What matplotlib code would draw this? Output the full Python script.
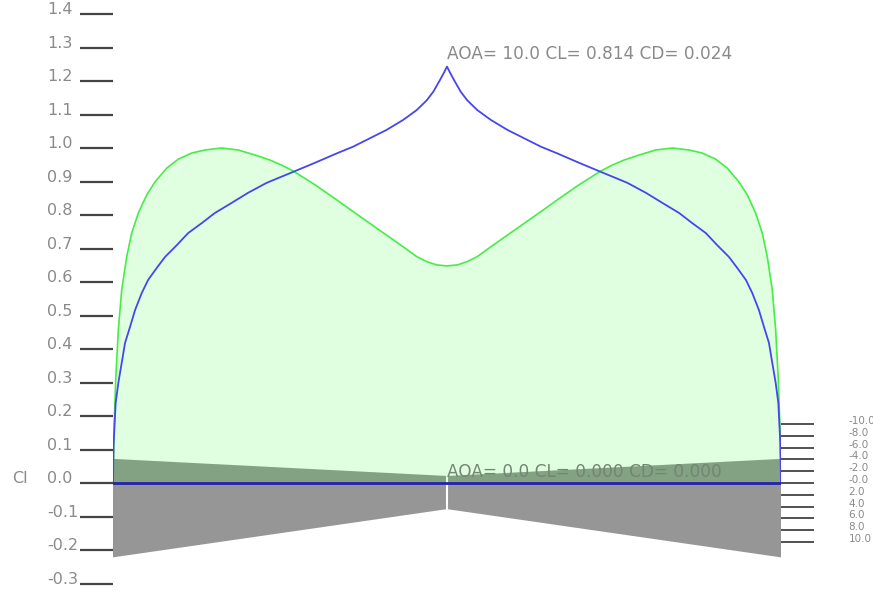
import numpy as np
import matplotlib
matplotlib.use('Agg')
import matplotlib.pyplot as plt
from matplotlib.transforms import blended_transform_factory

# spanwise stations (left half: tip at -1, root at 0), mirrored for the right wing
eta_blue = [-1.0, -0.998, -0.992, -0.984, -0.974, -0.964, -0.949, -0.934, -0.914,
            -0.895, -0.869, -0.844, -0.809, -0.775, -0.734, -0.695, -0.645, -0.596,
            -0.540, -0.460, -0.395, -0.330, -0.281, -0.231, -0.181, -0.131, -0.091,
            -0.061, -0.041, -0.021, -0.009, 0.0]
cl_blue = [0.0, 0.119, 0.239, 0.299, 0.358, 0.418, 0.466, 0.516, 0.567,
           0.606, 0.642, 0.675, 0.710, 0.746, 0.776, 0.806, 0.836, 0.866,
           0.896, 0.929, 0.956, 0.984, 1.004, 1.029, 1.054, 1.084, 1.113,
           1.142, 1.168, 1.203, 1.225, 1.243]

eta_green = [-1.0, -0.997, -0.992, -0.984, -0.974, -0.959, -0.944, -0.924, -0.899,
             -0.874, -0.839, -0.804, -0.764, -0.725, -0.675, -0.625, -0.575, -0.530,
             -0.495, -0.460, -0.395, -0.330, -0.281, -0.231, -0.181, -0.131, -0.091,
             -0.061, -0.031, 0.0]
cl_green = [0.0, 0.158, 0.307, 0.457, 0.576, 0.675, 0.746, 0.806, 0.860,
            0.899, 0.940, 0.967, 0.985, 0.994, 1.000, 0.994, 0.979, 0.964,
            0.949, 0.931, 0.890, 0.845, 0.810, 0.775, 0.740, 0.705, 0.676,
            0.661, 0.651, 0.648]

# wing planform (left half: tip -> root)
plan_eta = [-1.0, 0.0]
plan_top = [0.072, 0.021]
plan_bot = [-0.222, -0.078]

cl_ticks = np.round(np.arange(-0.3, 1.41, 0.1), 1)
aoa_ticks = [-10, -8, -6, -4, -2, 0, 2, 4, 6, 8, 10]
aoa_labels = ['-10.0', '-8.0', '-6.0', '-4.0', '-2.0', '-0.0',
              '2.0', '4.0', '6.0', '8.0', '10.0']
cl_per_deg = 0.01757

label_hi = 'AOA= 10.0 CL= 0.814 CD= 0.024'
label_lo = 'AOA= 0.0 CL= 0.000 CD= 0.000'


def mirror(x, y):
    x = np.asarray(x)
    y = np.asarray(y)
    return np.concatenate([x, -x[::-1][1:]]), np.concatenate([y, y[::-1][1:]])


xb, yb = mirror(eta_blue, cl_blue)
xg, yg = mirror(eta_green, cl_green)

fig = plt.figure(figsize=(8.73, 5.9), dpi=100)
ax = fig.add_axes([113 / 873, 0.0, 668 / 873, 1.0])
ax.set_xlim(-1.0, 1.0)
ax.set_ylim(-0.3194, 1.4418)

# planform halves (gray), white gap at the root
for side in (1, -1):
    px = [side * e for e in plan_eta]
    ax.fill(px + px[::-1], plan_top + plan_bot[::-1], color='#969696', lw=0, zorder=1)
ax.plot([0, 0], [plan_bot[1], plan_top[1]], color='white', lw=1.5, zorder=1.5)

# lift distribution fill
ax.fill_between(xg, 0, yg, color=(0, 1, 0), alpha=0.12, lw=0, zorder=2)
ax.plot(xg, yg, color='#44ee44', lw=1.2, zorder=3, solid_joinstyle='round')
ax.plot(xb, yb, color='#4646ee', lw=1.3, zorder=4, solid_joinstyle='round')
ax.plot([-1, 1], [0, 0], color='#2222aa', lw=2, zorder=5)

ax.text(0.0, 1.281, label_hi, color='#8a8a8a', fontsize=12.2, ha='left', va='center', zorder=6)
ax.text(0.0, 0.034, label_lo, color='#738573', fontsize=12.2, ha='left', va='center', zorder=6)

for s in ax.spines.values():
    s.set_visible(False)
ax.set_xticks([])
ax.set_yticks(cl_ticks)
ax.set_yticklabels(['%.1f' % v for v in cl_ticks])
ax.tick_params(axis='y', length=23.8, width=1.6, color='#444444', pad=23.5,
               labelcolor='#8a8a8a', labelsize=11.5)
for t in ax.get_yticklabels():
    t.set_horizontalalignment('left')
    t.set_verticalalignment('baseline')

trans = blended_transform_factory(ax.transAxes, ax.transData)
ax.text(-0.151, 0.0, 'Cl', transform=trans, color='#8a8a8a', fontsize=11.5,
        ha='left', va='baseline')

# angle of attack scale on the right
ax2 = ax.twinx()
lo, hi = ax.get_ylim()
ax2.set_ylim(-lo / cl_per_deg, -hi / cl_per_deg)
for s in ax2.spines.values():
    s.set_visible(False)
ax2.set_yticks(aoa_ticks)
ax2.set_yticklabels(aoa_labels)
ax2.tick_params(axis='y', length=23.5, width=1.1, color='#222222', pad=25,
                labelcolor='#8a8a8a', labelsize=7.5)
for t in ax2.get_yticklabels():
    t.set_verticalalignment('baseline')

fig.savefig('out.png', dpi=100)
